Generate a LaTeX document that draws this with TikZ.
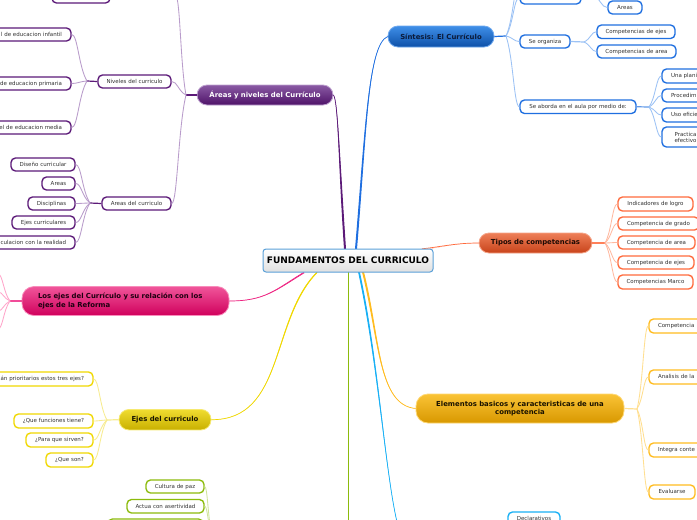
\documentclass[tikz,border=0pt]{standalone}
\usepackage{fontspec}
\setmainfont{DejaVu Sans}
\usetikzlibrary{calc}
\definecolor{cpur}{HTML}{5C1A78}\definecolor{lpur}{HTML}{B99CCB}
\definecolor{cblu}{HTML}{1F6FE0}\definecolor{lblu}{HTML}{9CC2F5}
\definecolor{cora}{HTML}{FF6A3C}\definecolor{lora}{HTML}{FFB9A0}
\definecolor{camb}{HTML}{FFBC1F}\definecolor{lamb}{HTML}{FFDF90}
\definecolor{cpnk}{HTML}{EE1F7F}\definecolor{lpnk}{HTML}{FFA6CB}
\definecolor{cyel}{HTML}{F0D800}\definecolor{lyel}{HTML}{F7EC90}
\definecolor{cgrn}{HTML}{8CBB0C}\definecolor{lgrn}{HTML}{CFE49A}
\definecolor{csky}{HTML}{18B0F5}
\definecolor{ltext}{HTML}{333333}
\definecolor{rootedge}{HTML}{5AA0D8}
\definecolor{mp1}{HTML}{8A5AA4}\definecolor{mp2}{HTML}{4E1268}\definecolor{mp3}{HTML}{BFA2D0}\definecolor{mp4}{HTML}{FFFFFF}
\definecolor{mb1}{HTML}{3F8FE8}\definecolor{mb2}{HTML}{0D50A8}\definecolor{mb3}{HTML}{6EA8EE}\definecolor{mb4}{HTML}{0B1B3A}
\definecolor{mo1}{HTML}{EE7F58}\definecolor{mo2}{HTML}{C8431A}\definecolor{mo3}{HTML}{F5A488}\definecolor{mo4}{HTML}{1E0A04}
\definecolor{ma1}{HTML}{FAC336}\definecolor{ma2}{HTML}{D89800}\definecolor{ma3}{HTML}{FFD873}\definecolor{ma4}{HTML}{1A1200}
\definecolor{mk1}{HTML}{F0559A}\definecolor{mk2}{HTML}{D0005C}\definecolor{mk3}{HTML}{F88CBB}\definecolor{mk4}{HTML}{1E0010}
\definecolor{my1}{HTML}{F0DC30}\definecolor{my2}{HTML}{C8B000}\definecolor{my3}{HTML}{F6E970}\definecolor{my4}{HTML}{1A1600}
\tikzset{
  leaf/.style={draw=#1,line width=1.35pt,rounded corners=4.5pt,fill=white,inner sep=0pt,font=\fontsize{5.5}{6.4}\selectfont,text=ltext},
  mainbox/.style={draw=#13,line width=.8pt,rounded corners=10pt,top color=#11,bottom color=#12,inner sep=0pt,text=#14,font=\fontsize{6.9}{8.4}\selectfont\bfseries},
  twig/.style={draw=#1,line width=.85pt},
  stub/.style={draw=#1,line width=1.2pt}
}
% name, colour, x1, x2, y1, y2, alignment, text
\newcommand{\leafnode}[8]{%
  \pgfmathsetmacro{\lw}{#4-#3}\pgfmathsetmacro{\lh}{#6-#5}%
  \pgfmathsetmacro{\ltw}{#4-#3-18}%
  \node[leaf=#2,minimum width=\lw pt,minimum height=\lh pt,text width=\ltw pt,align=center] (#1) at ({(#3+#4)/2},{(#5+#6)/2}) {\makebox[\linewidth][#7]{\vphantom{Ág}#8}};}
% colour, hub, target
\newcommand{\branch}[3]{\draw[twig=#1] let \p1=(#2),\p2=(#3) in (\p1) .. controls ({\x1+.55*(\x2-\x1)},{\y1+.3*(\y2-\y1)}) and ({\x1+.6*(\x2-\x1)},\y2) .. (\p2);}
% colour, start, c1, c2, end, half-width shift
\newcommand{\taper}[6]{%
  \draw[#1,line width=.7pt] (#2) .. controls (#3) and (#4) .. (#5);
  \fill[#1] ([shift={(#6)}]#2) .. controls ([shift={(#6)}]#3) and (#4) .. (#5) .. controls (#4) and ([shift={(-#6)}]#3) .. ([shift={(-#6)}]#2) -- cycle;}
\begin{document}
\begin{tikzpicture}[x=1pt,y=-1pt]
\useasboundingbox (0,0) rectangle (697,520);
\clip (0,0) rectangle (697,520);
\fill[white] (0,0) rectangle (697,520);

% main nodes
\node[mainbox=mp,minimum width=136pt,minimum height=20pt] (pur) at (265,95) {Áreas y niveles del Currículo};
\node[mainbox=mb,minimum width=106pt,minimum height=21pt] (blu) at (441,36.5) {Síntesis: El Currículo};
\node[mainbox=mo,minimum width=113pt,minimum height=20pt] (ora) at (535.5,243) {Tipos de competencias};
\node[mainbox=ma,minimum width=208pt,minimum height=29pt,align=center,rounded corners=12pt] (amb) at (520,408.5) {Elementos basicos y caracteristicas de una\\competencia};
\node[mainbox=mk,minimum width=207pt,minimum height=29pt,text width=175pt,align=left,rounded corners=12pt] (pnk) at (125.5,301) {Los ejes del Currículo y su relación con los\\ejes de la Reforma};
\node[mainbox=my,minimum width=92pt,minimum height=20.5pt] (yel) at (165,419.7) {Ejes del curriculo};

% free ends and hubs
\coordinate (ebot) at (397,522);
\coordinate (gbot) at (348.5,522);
\coordinate (hpur) at (186,95);
\coordinate (hniv) at (87,81);
\coordinate (hare) at (90,203);
\coordinate (hblu) at (506,36);
\coordinate (hsec) at (584,42);
\coordinate (habo) at (649,107);
\coordinate (htop) at (592,-6);
\coordinate (hora) at (605,243);
\coordinate (hamb) at (637,409);
\coordinate (hpnk) at (10,301);
\coordinate (hyel) at (107,420);
\coordinate (hgrn) at (212,535);

% root box (named first so connectors can start from it)
\node[minimum width=170pt,minimum height=23pt,inner sep=0pt] (root) at (348,260.5) {};
\coordinate (rp) at ([xshift=-3pt]root.north);
\coordinate (rb) at ([xshift=8pt]root.north);
\coordinate (ro) at ([xshift=74pt]root.north);
\coordinate (ra) at ([xshift=15pt]root.south);
\coordinate (rs) at ([xshift=11pt]root.south);
\coordinate (rg) at ([xshift=.5pt]root.south);
\coordinate (rk) at ([xshift=-44pt]root.south);
\coordinate (ry) at ([xshift=-31pt]root.south);

% main connectors
\taper{cpur}{rp}{339,160}{338,100}{pur.east}{1,.1}
\taper{cblu}{rb}{366,130}{368,45}{blu.west}{1,.1}
\taper{cora}{ro}{440,247}{455,243}{ora.west}{.2,.8}
\taper{camb}{ra}{380,340}{378,405}{amb.west}{1,-.2}
\taper{csky}{rs}{378,360}{385,470}{ebot}{.9,-.1}
\draw[cgrn,line width=1.3pt] (rg) -- (gbot);
\taper{cpnk}{rk}{275,290}{265,301}{pnk.east}{.7,.7}
\taper{cyel}{ry}{270,320}{285,420}{yel.east}{.7,.3}

% root box on top of connectors
\node[draw=rootedge,line width=1pt,rounded corners=3pt,top color=white,bottom color=black!12,minimum width=170pt,minimum height=23pt,inner sep=0pt,font=\fontsize{9}{10}\selectfont\bfseries,text=black] (rootbox) at (348,260.5) {FUNDAMENTOS DEL CURRICULO};

% purple branch
\leafnode{pn}{cpur}{98}{171}{75}{88}{c}{Niveles del curriculo}
\leafnode{pa}{cpur}{102}{171}{197}{210}{c}{Areas del curriculo}
\leafnode{ptop}{cpur}{52}{110}{-10}{3}{c}{}
\leafnode{pn1}{cpur}{-60}{71}{28}{41}{r}{l de educacion infantil}
\leafnode{pn2}{cpur}{-60}{71}{77}{90}{r}{de educacion primaria}
\leafnode{pn3}{cpur}{-60}{71}{121}{134}{r}{el de educacion media}
\leafnode{pa1}{cpur}{11}{75}{158}{171}{c}{Diseño curricular}
\leafnode{pa2}{cpur}{42}{75}{177}{190}{c}{Areas}
\leafnode{pa3}{cpur}{28}{75}{197}{210}{c}{Disciplinas}
\leafnode{pa4}{cpur}{12}{75}{216}{229}{c}{Ejes curriculares}
\leafnode{pa5}{cpur}{-60}{75}{236}{249}{r}{culacion con la realidad}
\coordinate (ptopr) at (176,-3);
\draw[stub=cpur] (pur.west) -- (hpur);
\branch{lpur}{hpur}{ptopr}
\branch{lpur}{hpur}{pn.east}
\branch{lpur}{hpur}{pa.east}
\draw[stub=cpur] (pn.west) -- (hniv);
\draw[stub=cpur] (pa.west) -- (hare);
\foreach \t in {pn1,pn2,pn3}{\branch{lpur}{hniv}{\t.east}}
\foreach \t in {pa1,pa2,pa3,pa4,pa5}{\branch{lpur}{hare}{\t.east}}

% blue branch
\leafnode{btop}{cblu}{520}{581}{-9}{4}{c}{}
\leafnode{bs}{cblu}{520}{570}{35}{48}{c}{Se organiza}
\leafnode{ba}{cblu}{520}{636}{100}{113.5}{c}{Se aborda en el aula por medio de:}
\leafnode{bar}{cblu}{608}{642}{1}{14}{c}{Areas}
\leafnode{bs1}{cblu}{597}{675}{25}{38.5}{c}{Competencias de ejes}
\leafnode{bs2}{cblu}{597}{676}{45}{58}{c}{Competencias de area}
\leafnode{ba1}{cblu}{662}{760}{69}{83}{l}{Una plani}
\leafnode{ba2}{cblu}{662}{760}{89}{102}{l}{Procedim}
\leafnode{ba3}{cblu}{662}{760}{108}{122}{l}{Uso eficie}
\leafnode{ba4}{cblu}{662}{760}{127}{147}{l}{\hspace*{3.5pt}\raisebox{-2.5pt}{\shortstack[c]{Practica\\[-1.2pt]efectivo}}}
\coordinate (bup) at (520,-20);
\draw[stub=cblu] (blu.east) -- (hblu);
\branch{lblu}{hblu}{btop.west}
\branch{lblu}{hblu}{bup}
\branch{lblu}{hblu}{bs.west}
\branch{lblu}{hblu}{ba.west}
\draw[stub=lblu] (bs.east) -- (hsec);
\draw[stub=cblu!70!white] (ba.east) -- (habo);
\branch{lblu}{hsec}{bs1.west}
\branch{lblu}{hsec}{bs2.west}
\foreach \t in {ba1,ba2,ba3,ba4}{\branch{lblu}{habo}{\t.west}}
\branch{lblu}{htop}{bar.west}

% orange branch
\leafnode{o1}{cora}{618}{693}{197}{211}{c}{Indicadores de logro}
\leafnode{o2}{cora}{618}{699}{217}{230}{c}{Competencia de grado}
\leafnode{o3}{cora}{618}{695}{236}{249}{c}{Competencia de area}
\leafnode{o4}{cora}{618}{694}{256}{269}{c}{Competencia de ejes}
\leafnode{o5}{cora}{618}{693}{275}{289}{c}{Competencias Marco}
\draw[stub=cora!85!white] (ora.east) -- (hora);
\foreach \t in {o1,o2,o3,o4,o5}{\branch{lora}{hora}{\t.west}}

% amber branch
\leafnode{a1}{camb}{649}{760}{319}{333}{l}{Competencia}
\leafnode{a2}{camb}{649}{760}{370}{384}{l}{Analisis de la}
\leafnode{a3}{camb}{649}{760}{443}{457}{l}{Integra conte}
\leafnode{a4}{camb}{649}{695}{485}{499}{c}{Evaluarse}
\draw[stub=lamb] (amb.east) -- (hamb);
\foreach \t in {a1,a2,a3,a4}{\branch{lamb}{hamb}{\t.west}}

% sky branch
\leafnode{s1}{csky}{508}{560}{512}{525}{c}{Declarativos}

% pink branch
\coordinate (pk1) at (-2,274);
\coordinate (pk2) at (-2,292);
\coordinate (pk3) at (-2,311);
\coordinate (pk4) at (-2,329);
\draw[stub=cpnk!80!white] (pnk.west) -- (hpnk);
\foreach \t in {pk1,pk2,pk3,pk4}{\branch{lpnk}{hpnk}{\t}}

% yellow branch
\leafnode{y1}{cyel}{-60}{93}{372}{386}{r}{án prioritarios estos tres ejes?}
\leafnode{y2}{cyel}{14}{93}{414}{428}{c}{¿Que funciones tiene?}
\leafnode{y3}{cyel}{26}{93}{433}{447}{c}{¿Para que sirven?}
\leafnode{y4}{cyel}{46}{93}{453}{467}{c}{¿Que son?}
\draw[stub=lyel] (yel.west) -- (hyel);
\foreach \t in {y1,y2,y3,y4}{\branch{lyel}{hyel}{\t.east}}

% green branch
\leafnode{g1}{cgrn}{146}{204}{480}{493}{c}{Cultura de paz}
\leafnode{g2}{cgrn}{127}{204}{499.5}{513}{c}{Actua con asertividad}
\leafnode{g3}{cgrn}{108}{203}{519}{532}{c}{}
\branch{lgrn}{hgrn}{g1.east}
\branch{lgrn}{hgrn}{g2.east}
\end{tikzpicture}
\end{document}
